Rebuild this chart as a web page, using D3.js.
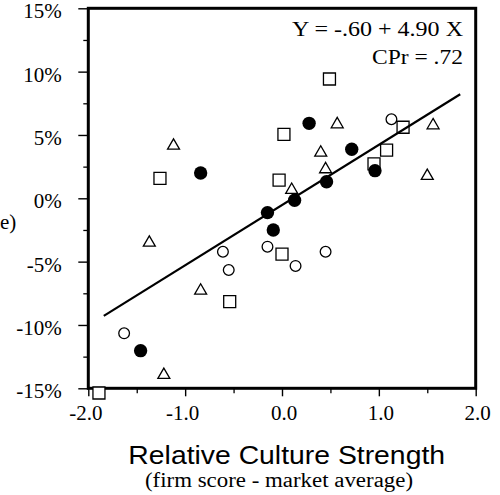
<!DOCTYPE html>
<html>
<head>
<meta charset="utf-8">
<script src="https://cdn.jsdelivr.net/npm/d3@7"></script>
<style>
  html, body { margin: 0; padding: 0; background: #fff; }
  svg { display: block; }
</style>
</head>
<body>
<svg id="chart" width="500" height="495"></svg>
<script>
// ---- data ----
const xTicks = [-2, -1, 0, 1, 2];
const xMinorTicks = [-1.5, -0.5, 0.5, 1.5];
const yTicks = [-15, -10, -5, 0, 5, 10, 15];
const yMinorTicks = [-12.5, -7.5, -2.5, 2.5, 7.5, 12.5];

// [relative culture strength, relative performance %]
const squares = [
  [0.49, 9.42], [0.02, 5.05], [1.25, 5.61], [1.08, 3.81], [0.95, 2.71],
  [-0.03, 1.44], [-1.26, 1.58], [-0.54, -8.16], [0.00, -4.40], [-1.89, -15.37]
];
const triangles = [
  [-1.12, 4.15], [-1.37, -3.51], [-0.84, -7.29], [-1.22, -13.95], [0.10, 0.66],
  [0.45, 2.29], [0.40, 3.60], [0.57, 5.84], [1.56, 5.76], [1.50, 1.76]
];
const openCircles = [
  [1.13, 6.24], [-0.61, -4.22], [-0.55, -5.66], [-0.15, -3.82], [0.14, -5.34],
  [0.45, -4.22], [-1.63, -10.66]
];
const filledCircles = [
  [-0.84, 2.00], [0.28, 5.92], [0.72, 3.87], [0.96, 2.18], [0.46, 1.31],
  [0.13, -0.15], [-0.15, -1.13], [-0.09, -2.50], [-1.46, -12.03]
];
const fitLine = [[-1.84, -9.28], [1.84, 8.21]];

const equationText = "Y = -.60 + 4.90 X";
const corrText = "CPr = .72";
const xTitle = "Relative Culture Strength";
const xSubtitle = "(firm score - market average)";
const yTitleTail = "e)";

// ---- drawing ----
const svg = d3.select("#chart");
const serif = "'Liberation Serif', 'Times New Roman', serif";
const sans = "'Liberation Sans', Arial, sans-serif";

const x = d3.scaleLinear().domain([-2, 2]).range([88.3, 475.7]);
const y = d3.scaleLinear().domain([-15, 15]).range([388.3, 8.3]);

const fmtX = d => d3.format(".1f")(d).replace("\u2212", "-");

// minor ticks
svg.append("g")
  .attr("transform", `translate(0,${y(-15)})`)
  .call(d3.axisBottom(x).tickValues(xMinorTicks).tickSize(5).tickFormat(""))
  .call(g => g.select(".domain").remove())
  .call(g => g.selectAll("line").attr("stroke-width", 1.3));
svg.append("g")
  .attr("transform", `translate(${x(-2)},0)`)
  .call(d3.axisLeft(y).tickValues(yMinorTicks).tickSize(5).tickFormat(""))
  .call(g => g.select(".domain").remove())
  .call(g => g.selectAll("line").attr("stroke-width", 1.3));

// major ticks with labels
svg.append("g")
  .attr("transform", `translate(0,${y(-15)})`)
  .call(d3.axisBottom(x).tickValues(xTicks).tickSize(8).tickPadding(8.8)
        .tickFormat(fmtX))
  .call(g => g.select(".domain").remove())
  .call(g => g.selectAll("line").attr("stroke-width", 1.4))
  .call(g => g.selectAll("text").attr("font-family", serif).attr("font-size", 21)
        .attr("fill", "#000").attr("dx", d => d < 0 ? -3 : 1.5));
svg.append("g")
  .attr("transform", `translate(${x(-2)},0)`)
  .call(d3.axisLeft(y).tickValues(yTicks).tickSize(10).tickPadding(16.6)
        .tickFormat(d => d + "%"))
  .call(g => g.select(".domain").remove())
  .call(g => g.selectAll("line").attr("stroke-width", 1.4))
  .call(g => g.selectAll("text").attr("font-family", serif).attr("font-size", 21)
        .attr("dy", "0.46em").attr("fill", "#000"));

// frame
svg.append("rect")
  .attr("x", x(-2)).attr("y", y(15))
  .attr("width", x(2) - x(-2)).attr("height", y(-15) - y(15))
  .attr("fill", "none").attr("stroke", "#000").attr("stroke-width", 3);

// markers
const sym = (type, size) => d3.symbol().type(type).size(size)();
function drawSeries(data, type, size, fill, sw) {
  svg.append("g").selectAll("path").data(data).join("path")
    .attr("transform", d => `translate(${x(d[0])},${y(d[1])})`)
    .attr("d", sym(type, size))
    .attr("fill", fill)
    .attr("stroke", "#000")
    .attr("stroke-width", sw);
}
drawSeries(openCircles, d3.symbolCircle, 90, "#fff", 1.3);
drawSeries(triangles, d3.symbolTriangle, 62, "#fff", 1.3);
drawSeries(squares, d3.symbolSquare, 144, "#fff", 1.3);
drawSeries(filledCircles, d3.symbolCircle, 140, "#000", 0);

// regression line
svg.append("path")
  .datum(fitLine)
  .attr("d", d3.line().x(d => x(d[0])).y(d => y(d[1])))
  .attr("fill", "none").attr("stroke", "#000").attr("stroke-width", 2.2);

// annotations
svg.append("text").attr("x", 463).attr("y", 36).attr("text-anchor", "end")
  .attr("font-family", serif).attr("font-size", 20)
  .attr("textLength", 171).attr("lengthAdjust", "spacingAndGlyphs")
  .text(equationText);
svg.append("text").attr("x", 463).attr("y", 64).attr("text-anchor", "end")
  .attr("font-family", serif).attr("font-size", 20)
  .attr("textLength", 91).attr("lengthAdjust", "spacingAndGlyphs")
  .text(corrText);

// axis titles
svg.append("text").attr("x", 286.7).attr("y", 464).attr("text-anchor", "middle")
  .attr("font-family", sans).attr("font-size", 25)
  .attr("textLength", 316.7).attr("lengthAdjust", "spacingAndGlyphs")
  .text(xTitle);
svg.append("text").attr("x", 279).attr("y", 487).attr("text-anchor", "middle")
  .attr("font-family", serif).attr("font-size", 20)
  .attr("textLength", 268).attr("lengthAdjust", "spacingAndGlyphs")
  .text(xSubtitle);
svg.append("text").attr("x", 0).attr("y", 229).attr("text-anchor", "start")
  .attr("font-family", serif).attr("font-size", 21)
  .text(yTitleTail);
</script>
</body>
</html>
